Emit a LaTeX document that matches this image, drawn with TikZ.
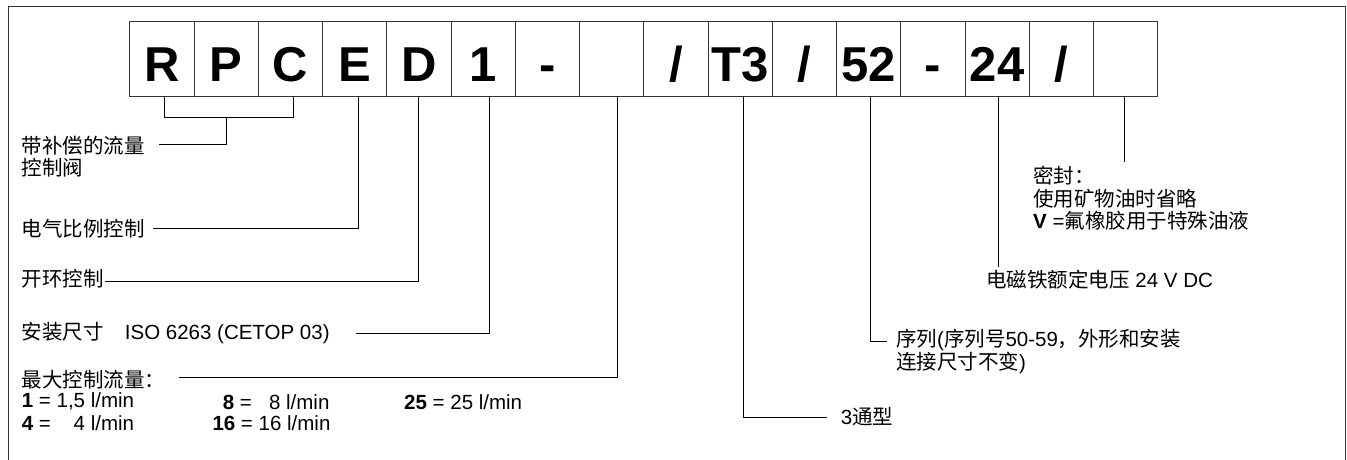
\documentclass[tikz,border=0pt]{standalone}
\usepackage{fontspec}
\setmainfont{Liberation Sans}
\newfontfamily\zhfont{Noto Sans CJK SC}
\newcommand\zh[1]{{\zhfont #1}}
\newcommand\codefont{\fontsize{49}{49}\selectfont\bfseries}
\newcommand\lblfont{\fontsize{20.5}{22.5}\selectfont}

\tikzset{
  frame/.style={draw=black!80,line width=0.9pt},
  codebox/.style={draw=black!80,line width=0.9pt,minimum width=64.25pt,
    minimum height=75pt,inner sep=0pt,text height=45pt,text depth=0pt,font=\codefont},
  lbl/.style={anchor=west,inner sep=0pt,align=left,font=\lblfont},
  lead/.style={line width=0.8pt}
}

\begin{document}
\begin{tikzpicture}[x=1pt,y=-1pt]
  \clip (0,0) rectangle (1347,460);
  \draw[frame] (8,6) rectangle (1345,470);
  % type code boxes
  \foreach \txt [count=\i] in {R,P,C,E,D,1,-,{},/,T3,/,52,-,24,/,{}}
    \node[codebox] (b\i) at ({129.7+64.25*(\i-0.5)},59.2) {\txt};
  % left labels
  \node[lbl] (rpc) at (21.7,156.5) {\zh{带补偿的流量}\\\zh{控制阀}};
  \node[lbl] (elec) at (21.7,228.3) {\zh{电气比例控制}};
  \node[lbl] (open) at (21.7,279) {\zh{开环控制}};
  \node[lbl] (size) at (21.7,333) {\zh{安装尺寸}\hspace{21pt}ISO 6263 (CETOP 03)};
  \node[lbl] (flow) at (21.7,380) {\zh{最大控制流量：}};
  \node[lbl] (f1) at (21.7,401.7) {\textbf{1} = 1,5 l/min};
  \node[lbl] (f4) at (21.7,423.3) {\textbf{4} = \makebox[1.39em][r]{4} l/min};
  \node[lbl] (f8) at (222.7,401.7) {\textbf{8} = \makebox[1.112em][r]{8} l/min};
  \node[lbl] (f16) at (212.3,423.3) {\textbf{16} = 16 l/min};
  \node[lbl] (f25) at (404,401.7) {\textbf{25} = 25 l/min};
  % right labels
  \node[lbl] (type) at (840.7,416.7) {3\zh{通型}};
  \node[lbl] (series) at (896,351.5) {\zh{序列}(\zh{序列号}50-59\zh{，外形和安装}\\\zh{连接尺寸不变})};
  \node[lbl] (volt) at (986,280) {\zh{电磁铁额定电压} 24 V DC};
  \node[lbl] (seal) at (1033,198.4) {\zh{密封：}\\\zh{使用矿物油时省略}\\\textbf{V} =\zh{氟橡胶用于特殊油液}};
  % leader ends
  \coordinate (rpc-end) at (159.3,144.3);
  \coordinate (elec-end) at (153.3,228.5);
  \coordinate (open-end) at (105,281);
  \coordinate (size-end) at (356,333.3);
  \coordinate (flow-end) at (179.3,377.7);
  \coordinate (type-end) at (826.7,417.3);
  \coordinate (series-end) at (886.7,341);
  \coordinate (volt-end) at (0,266.7);
  \coordinate (seal-end) at (0,161.7);
  % leaders
  \draw[lead] ([xshift=3pt]b1.south) -- ++(0,20) -| ([xshift=3.5pt]b3.south);
  \draw[lead] ([yshift=-20pt]b2.south) |- (rpc-end);
  \draw[lead] ([xshift=4pt]b4.south) |- (elec-end);
  \draw[lead] (b5.south) |- (open-end);
  \draw[lead] ([xshift=6.5pt]b6.south) |- (size-end);
  \draw[lead] ([xshift=6pt]b8.south) |- (flow-end);
  \draw[lead] ([xshift=3pt]b10.south) |- (type-end);
  \draw[lead] ([xshift=1.5pt]b12.south) |- (series-end);
  \draw[lead] ([xshift=1.5pt]b14.south) -- ([xshift=1.5pt]b14.south |- volt-end);
  \draw[lead] ([xshift=-1.5pt]b16.south) -- ([xshift=-1.5pt]b16.south |- seal-end);
\end{tikzpicture}
\end{document}
